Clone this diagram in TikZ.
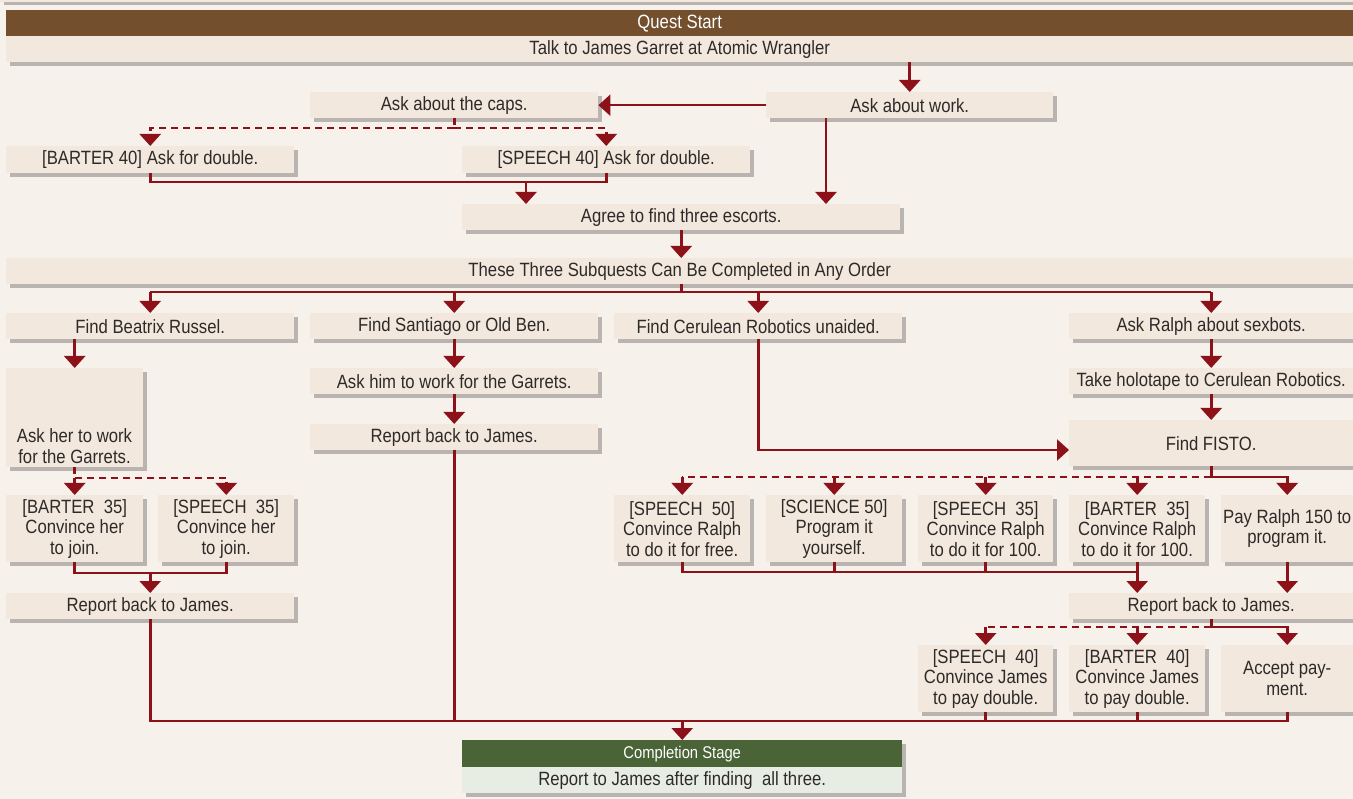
\documentclass[tikz,border=0pt]{standalone}
\usepackage{fontspec}
\setmainfont{Liberation Sans}[FakeStretch=0.87]
\usetikzlibrary{arrows.meta,shadows}
\definecolor{bg}{HTML}{F7F1EB}
\definecolor{boxfill}{HTML}{F2E8DE}
\definecolor{brownbar}{HTML}{734F2E}
\definecolor{greenbar}{HTML}{4A6437}
\definecolor{greenlight}{HTML}{E8EDE3}
\definecolor{arrred}{HTML}{8C1118}
\definecolor{txt}{HTML}{2E2A28}
\tikzset{
  shd/.style={drop shadow={shadow xshift=3.5pt,shadow yshift=-3.5pt,opacity=0.25,fill=black}},
  box/.style={fill=boxfill,inner sep=0pt,anchor=north west,text=txt,align=center,
    font=\fontsize{19.2}{20.5}\selectfont,shd},
  ln/.style={draw=arrred,line width=2.6pt},
  arr/.style={ln,-{Triangle[width=21pt,length=12pt]}},
  dl/.style={ln,dash pattern=on 7pt off 5pt},
  darr/.style={dl,-{Triangle[width=21pt,length=12pt]}},
}
\newcommand{\Bx}[7][]{\node[box,minimum width={(#5-#3)*1pt},minimum height={(#6-#4)*1pt},#1] (#2) at (#3,#4) {#7};}
\begin{document}
\begin{tikzpicture}[x=1pt,y=-1pt]
\useasboundingbox (0,0) rectangle (1353,799);
\fill[bg] (0,0) rectangle (1353,799);
\fill[boxfill,shd] (0,-10) rectangle (1353,2);
% header
\Bx[fill=brownbar,text=white]{qs}{6}{10}{1353}{36}{Quest Start}
\Bx{talk}{6}{36}{1353}{62}{Talk to James Garret at Atomic Wrangler}
\Bx{askcaps}{310}{92}{598}{118}{Ask about the caps.}
\Bx{askwork}{766}{92}{1053}{118}{Ask about work.}
\Bx{barterA}{6}{146}{294}{173}{[BARTER 40] Ask for double.}
\Bx{speechA}{462}{146}{750}{173}{[SPEECH 40] Ask for double.}
\Bx{agree}{462}{204}{900}{230}{Agree to find three escorts.}
\Bx{three}{6}{258}{1353}{284}{These Three Subquests Can Be Completed in Any Order}
\Bx{findb}{6}{313}{294}{339}{Find Beatrix Russel.}
\Bx{finds}{310}{313}{598}{339}{Find Santiago or Old Ben.}
\Bx{findc}{614}{313}{902}{339}{Find Cerulean Robotics unaided.}
\Bx{askr}{1069}{313}{1353}{339}{Ask Ralph about sexbots.}
\Bx{askher}{6}{368}{143}{467}{}
\node[text=txt,align=center,font=\fontsize{19.2}{20.5}\selectfont,inner sep=0pt] (askhertxt) at (74.5,446) {Ask her to work\\for the Garrets.};
\Bx{barterB}{6}{495}{143}{562}{[BARTER\ \ 35]\\Convince her\\to join.}
\Bx{speechB}{158}{495}{294}{562}{[SPEECH\ \ 35]\\Convince her\\to join.}
\Bx{repA}{6}{593}{294}{619}{Report back to James.}
\Bx{askhim}{310}{368}{598}{394}{Ask him to work for the Garrets.}
\Bx{repB}{310}{424}{598}{450}{Report back to James.}
\Bx{holo}{1069}{368}{1353}{394}{Take holotape to Cerulean Robotics.}
\Bx{fisto}{1069}{420}{1353}{466}{Find FISTO.}
\Bx{spC}{614}{495}{750}{562}{[SPEECH\ \ 50]\\Convince Ralph\\to do it for free.}
\Bx{sciC}{766}{495}{902}{562}{[SCIENCE 50]\\Program it\\yourself.}
\Bx{spD}{918}{495}{1053}{562}{[SPEECH\ \ 35]\\Convince Ralph\\to do it for 100.}
\Bx{baD}{1069}{495}{1205}{562}{[BARTER\ \ 35]\\Convince Ralph\\to do it for 100.}
\Bx{pay}{1221}{495}{1353}{562}{Pay Ralph 150 to\\program it.}
\Bx{repC}{1069}{593}{1353}{619}{Report back to James.}
\Bx{spE}{918}{645}{1053}{712}{[SPEECH\ \ 40]\\Convince James\\to pay double.}
\Bx{baE}{1069}{645}{1205}{712}{[BARTER\ \ 40]\\Convince James\\to pay double.}
\Bx{accept}{1221}{645}{1353}{712}{Accept pay-\\ment.}
\Bx[fill=greenbar,text=white,font=\fontsize{17}{18}\selectfont]{comp}{462}{740}{902}{767}{Completion Stage}
\Bx[fill=greenlight]{rept}{462}{767}{902}{793}{Report to James after finding\ \ all three.}
% connectors: top
\draw[arr] (talk.south -| askwork.north) -- (askwork.north);
\draw[arr] (askwork.west) -- (askcaps.east);
\draw[dl] (askcaps.south) -- (askcaps.south |- 0,128);
\draw[darr] (askcaps.south |- 0,128) -| (barterA.north);
\draw[darr] (askcaps.south |- 0,128) -| (speechA.north);
\draw[ln] (barterA.south) -- (barterA.south |- 0,182) -| (speechA.south);
\coordinate (jA) at ([xshift=64pt]agree.north west);
\draw[arr] (jA |- 0,182) -- (jA);
\coordinate (jB) at ([xshift=60pt]askwork.south west);
\draw[arr] (jB) -- (jB |- agree.north);
\draw[arr] (agree.south) -- (agree.south |- three.north);
% branches
\draw[ln] (agree.south |- three.south) -- (agree.south |- 0,292);
\draw[ln] (findb.north |- 0,292) -- (askr.north |- 0,292);
\foreach \n in {findb,finds,findc,askr} \draw[arr] (\n.north |- 0,292) -- (\n.north);
% Beatrix
\draw[arr] (askher.north |- findb.south) -- (askher.north);
\draw[dl] (askher.south) -- (askher.south |- 0,478);
\draw[darr] (askher.south |- 0,478) -- (barterB.north);
\draw[darr] (askher.south |- 0,478) -| (speechB.north);
\draw[ln] (barterB.south) -- (barterB.south |- 0,573) -| (speechB.south);
\draw[arr] (repA.north |- 0,573) -- (repA.north);
% Santiago
\draw[arr] (finds.south) -- (askhim.north);
\draw[arr] (askhim.south) -- (repB.north);
% Ralph
\draw[arr] (askr.south) -- (holo.north);
\draw[arr] (holo.south) -- (fisto.north);
\draw[arr] (findc.south) |- (fisto.west |- 0,450);
\draw[ln] (fisto.south) -- (fisto.south |- 0,477);
\draw[dl] (fisto.south |- 0,477) -- (spC.north |- 0,477);
\foreach \n in {spC,sciC,spD,baD} \draw[darr] (\n.north |- 0,477) -- (\n.north);
\draw[arr] (fisto.south |- 0,477) -| (pay.north);
\draw[ln] (spC.south) -- (spC.south |- 0,572) -- (baD.south |- 0,572);
\draw[ln] (sciC.south) -- (sciC.south |- 0,572);
\draw[ln] (spD.south) -- (spD.south |- 0,572);
\draw[arr] (baD.south) -- (baD.south |- repC.north);
\draw[arr] (pay.south) -- (pay.south |- repC.north);
\draw[ln] (repC.south) -- (repC.south |- 0,627);
\draw[dl] (repC.south |- 0,627) -- (spE.north |- 0,627);
\draw[darr] (spE.north |- 0,627) -- (spE.north);
\draw[darr] (baE.north |- 0,627) -- (baE.north);
\draw[arr] (repC.south |- 0,627) -| (accept.north);
% bottom join
\draw[ln] (repA.south) -- (repA.south |- 0,721) -- (accept.south |- 0,721) -- (accept.south);
\draw[ln] (repB.south) -- (repB.south |- 0,721);
\draw[ln] (spE.south) -- (spE.south |- 0,721);
\draw[ln] (baE.south) -- (baE.south |- 0,721);
\draw[arr] (comp.north |- 0,721) -- (comp.north);
\end{tikzpicture}
\end{document}
